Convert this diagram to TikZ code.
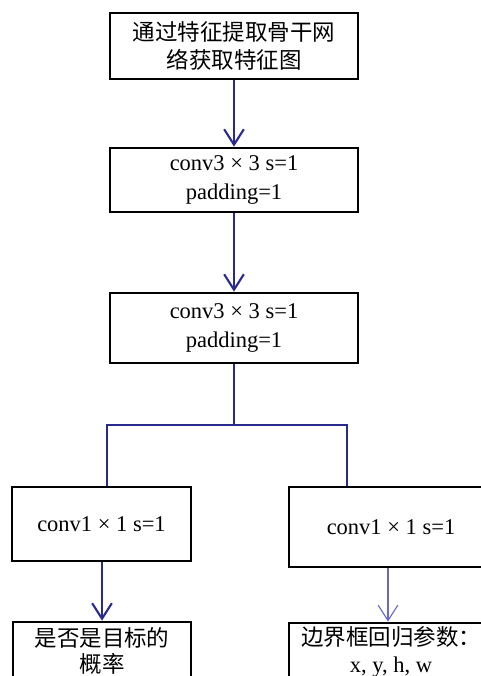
\documentclass[tikz,border=0pt]{standalone}
\usepackage{fontspec}
\setmainfont{Liberation Serif}
\newfontfamily\cjk{Noto Sans CJK SC}
\usetikzlibrary{arrows.meta}
\definecolor{flowblue}{RGB}{42,42,140}
\definecolor{lightblue}{RGB}{105,105,205}
\newcommand\boxfont{\fontsize{16}{20.5}\selectfont}
\newcommand\tightfont{\fontsize{16}{19}\selectfont}

\begin{document}
\begin{tikzpicture}[x=0.025cm, y=-0.025cm,
    box/.style={draw, line width=1.9pt, align=center, inner sep=0pt, font=\boxfont},
    cn/.style={box, font=\cjk\boxfont},
    flow/.style={flowblue, line width=1.5pt},
    tip/.style={-{Straight Barb[length=11pt, width=14pt, line width=1.5pt]}}]
    \useasboundingbox (0,0) rectangle (480,676);
    %% Backbone
    \node[cn, minimum width=6.2cm, minimum height=1.65cm] (feat) at (234,46) {通过特征提取骨干网\\络获取特征图};
    \node[box, minimum width=6.2cm, minimum height=1.6cm] (convA) at (234,180) {conv3 × 3 s=1\\padding=1};
    \node[box, minimum width=6.2cm, minimum height=1.75cm] (convB) at (234,328) {conv3 × 3 s=1\\padding=1};
    %% Two heads
    \node[box, minimum width=4.48cm, minimum height=1.85cm] (clsconv) at (101.5,524) {conv1 × 1 s=1};
    \node[box, minimum width=5.1cm, minimum height=2cm] (regconv) at (391,527) {conv1 × 1 s=1};
    \node[cn, font=\cjk\tightfont, minimum width=4.45cm, minimum height=1.45cm] (cls) at (102,651) {是否是目标的\\概率};
    \node[box, font=\tightfont, minimum width=5.1cm, minimum height=1.45cm] (reg) at (391,652) {{\cjk 边界框回归参数：}\\x, y, h, w};
    %% Connectors
    \draw[flow, tip] (feat) -- (convA);
    \draw[flow, tip] (convA) -- (convB);
    \coordinate (split) at (convB.south |- 0,425);
    \draw[flow] (convB) -- (split);
    \draw[flow] (clsconv.north -| 107,0) |- (split) -| (regconv.north -| 347,0);
    \draw[flow, tip] (clsconv.south -| cls.north) -- (cls.north);
    \draw[lightblue, line width=0.8pt, -{Straight Barb[length=11pt, width=14pt, line width=0.8pt]}] (regconv.south -| 388,0) -- (reg.north -| 388,0);
\end{tikzpicture}
\end{document}
